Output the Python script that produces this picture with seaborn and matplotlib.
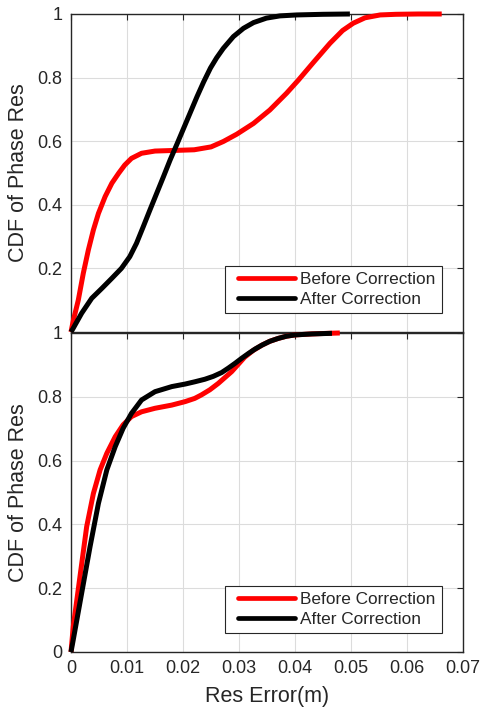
import matplotlib
matplotlib.use("Agg")
import matplotlib.pyplot as plt
from matplotlib.legend_handler import HandlerLine2D
import numpy as np
import seaborn as sns
import pandas as pd

# Upper panel: CDF of phase residuals
top_before_x = [0, 0.0004, 0.0013, 0.0022, 0.0031, 0.004, 0.0049, 0.0061, 0.0073, 0.0085,
                0.0096, 0.0108, 0.0126, 0.015, 0.0186, 0.022, 0.025, 0.0272, 0.0296, 0.0326,
                0.0355, 0.0385, 0.0406, 0.0433, 0.04625, 0.0485, 0.0504, 0.0525, 0.0552,
                0.058, 0.062, 0.0662]
top_before_y = [0, 0.035, 0.10, 0.185, 0.258, 0.321, 0.373, 0.426, 0.468, 0.499,
                0.525, 0.546, 0.562, 0.569, 0.571, 0.573, 0.582, 0.599, 0.622, 0.656,
                0.698, 0.751, 0.792, 0.848, 0.908, 0.948, 0.971, 0.988, 0.997,
                0.999, 1.0, 1.0]
top_after_x = [0, 0.0004, 0.0019, 0.0037, 0.0055, 0.0073, 0.009, 0.0105, 0.0117, 0.0129,
               0.0141, 0.0153, 0.0165, 0.0177, 0.0189, 0.0201, 0.0213, 0.0225, 0.0237, 0.0249,
               0.026, 0.0272, 0.029, 0.0308, 0.0326, 0.0349, 0.0373, 0.0403, 0.045, 0.0498]
top_after_y = [0, 0.012, 0.059, 0.106, 0.137, 0.169, 0.2, 0.237, 0.279, 0.331,
               0.384, 0.436, 0.488, 0.541, 0.59, 0.64, 0.69, 0.74, 0.787, 0.83,
               0.862, 0.892, 0.929, 0.955, 0.973, 0.987, 0.994, 0.997, 0.999, 1.0]

# Lower panel
bot_before_x = [0, 0.0004, 0.0016, 0.0028, 0.004, 0.0052, 0.0064, 0.0079, 0.0093, 0.0108,
                0.0126, 0.015, 0.018, 0.0204, 0.0221, 0.0233, 0.0248, 0.0263, 0.0287, 0.031,
                0.0325, 0.0341, 0.0355, 0.037, 0.0385, 0.04, 0.043, 0.046, 0.048]
bot_before_y = [0, 0.079, 0.236, 0.393, 0.497, 0.571, 0.623, 0.675, 0.712, 0.738,
                0.753, 0.764, 0.774, 0.785, 0.795, 0.806, 0.822, 0.842, 0.879, 0.924,
                0.945, 0.962, 0.974, 0.983, 0.99, 0.994, 0.997, 0.999, 1.0]
bot_after_x = [0, 0.0004, 0.0019, 0.0034, 0.0049, 0.0064, 0.0079, 0.0093, 0.0108, 0.0126,
               0.015, 0.018, 0.0204, 0.0221, 0.0239, 0.0254, 0.0269, 0.0281, 0.0293, 0.0305,
               0.0317, 0.0329, 0.0341, 0.0355, 0.037, 0.0385, 0.04, 0.043, 0.0466]
bot_after_y = [0, 0.038, 0.184, 0.33, 0.466, 0.571, 0.644, 0.701, 0.748, 0.79,
               0.816, 0.832, 0.84, 0.847, 0.855, 0.864, 0.876, 0.89, 0.905, 0.921,
               0.936, 0.95, 0.962, 0.974, 0.983, 0.99, 0.994, 0.997, 0.999]

series_names = ["Before Correction", "After Correction"]
series_colors = {"Before Correction": "#ff0000", "After Correction": "#000000"}
x_ticks = [0, 0.01, 0.02, 0.03, 0.04, 0.05, 0.06, 0.07]
y_ticks = [0, 0.2, 0.4, 0.6, 0.8, 1]

sns.set_theme(style="white")
plt.rcParams["font.family"] = ["Liberation Sans", "DejaVu Sans"]
ink = "#262626"


class InsetLineHandler(HandlerLine2D):
    """Legend line that starts a little inside its handle box."""

    def __init__(self, inset=0.4, **kw):
        super().__init__(**kw)
        self.inset = inset

    def get_xdata(self, legend, xdescent, ydescent, width, height, fontsize):
        x0 = -xdescent + self.inset * fontsize
        xdata = np.array([x0, -xdescent + width])
        return xdata, xdata


def frame(bx, by, ax_, ay_):
    return pd.concat([
        pd.DataFrame({"x": bx, "y": by, "s": series_names[0]}),
        pd.DataFrame({"x": ax_, "y": ay_, "s": series_names[1]}),
    ], ignore_index=True)


fig = plt.figure(figsize=(4.82, 7.10), dpi=100)
ax_top = fig.add_axes([0.1473, 0.5324, 0.8133, 0.4479])
ax_bot = fig.add_axes([0.1473, 0.0817, 0.8133, 0.4493])

panels = [
    (ax_top, frame(top_before_x, top_before_y, top_after_x, top_after_y)),
    (ax_bot, frame(bot_before_x, bot_before_y, bot_after_x, bot_after_y)),
]

for ax, df in panels:
    sns.lineplot(data=df, x="x", y="y", hue="s", palette=series_colors,
                 hue_order=series_names, sort=False, estimator=None,
                 linewidth=3.6, ax=ax, legend=False, clip_on=False)
    for ln in ax.lines:
        ln.set_solid_joinstyle("round")
        ln.set_solid_capstyle("butt")
    ax.set_xlim(0, 0.07)
    ax.set_ylim(0, 1)
    ax.set_xticks(x_ticks)
    ax.set_yticks(y_ticks)
    ax.grid(True, color="#dcdcdc", linewidth=0.8)
    ax.set_axisbelow(True)
    for sp in ax.spines.values():
        sp.set_visible(True)
        sp.set_color(ink)
        sp.set_linewidth(1.0)
        sp.set_zorder(1)
    ax.tick_params(direction="in", length=4, width=0.8, color=ink,
                   top=True, right=True, labelsize=13, labelcolor=ink, pad=6)
    ax.set_ylabel("CDF of Phase Res", fontsize=15.5, color=ink, labelpad=6)
    handles = [plt.Line2D([], [], color=series_colors[n], linewidth=3.4) for n in series_names]
    leg = ax.legend(handles, series_names, loc="lower right",
                    bbox_to_anchor=(0.946, 0.06), fontsize=12.4, frameon=True,
                    fancybox=False, framealpha=1, edgecolor=ink,
                    handlelength=3.75, handletextpad=0.3, borderpad=0.35,
                    labelspacing=0.28, borderaxespad=0,
                    handler_map={plt.Line2D: InsetLineHandler(inset=0.42)})
    leg.get_frame().set_linewidth(0.8)

ax_top.set_xticklabels([])
ax_top.set_xlabel("")
ax_top.set_yticks(y_ticks[1:])
ax_top.set_yticklabels(["0.2", "0.4", "0.6", "0.8", "1"])
ax_bot.set_xticklabels(["0", "0.01", "0.02", "0.03", "0.04", "0.05", "0.06", "0.07"])
ax_bot.set_yticklabels(["0", "0.2", "0.4", "0.6", "0.8", "1"])
ax_bot.set_xlabel("Res Error(m)", fontsize=15.5, color=ink, labelpad=6)

fig.savefig("out.png", dpi=100, facecolor="white")
